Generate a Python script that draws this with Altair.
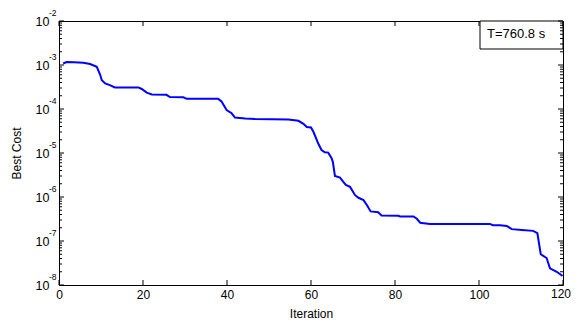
import altair as alt
import pandas as pd

# ---- data ----
iterations = [1.0, 1.8, 3.5, 5.8, 7.4, 9.0, 9.8, 10.2, 11.0, 12.1, 13.3, 18.9, 19.7, 20.9,
              22.1, 25.6, 26.4, 29.6, 30.4, 37.9, 38.7, 39.9, 41.1, 41.9, 44.3, 46.7,
              54.6, 57.0, 58.2, 59.0, 60.0, 60.6, 61.7, 62.5, 63.3, 64.1, 64.9, 65.2,
              65.7, 66.9, 67.7, 68.3, 69.3, 70.5, 71.3, 72.5, 73.3, 74.2, 76.0, 76.8,
              80.8, 81.2, 84.4, 85.2, 86.0, 88.3, 102.6, 103.3, 105.0, 106.6, 107.8,
              110.2, 112.9, 113.9, 114.7, 115.3, 116.1, 116.9, 118.5, 119.9]
best_cost = [1.08e-3, 1.17e-3, 1.15e-3, 1.12e-3, 1.05e-3, 9.1e-4, 6.0e-4, 4.5e-4, 3.8e-4,
             3.5e-4, 3.1e-4, 3.1e-4, 2.85e-4, 2.35e-4, 2.13e-4, 2.1e-4, 1.87e-4, 1.85e-4,
             1.7e-4, 1.7e-4, 1.48e-4, 9.5e-5, 8.0e-5, 6.4e-5, 6.1e-5, 5.9e-5, 5.8e-5,
             5.4e-5, 4.6e-5, 3.9e-5, 3.8e-5, 3.0e-5, 1.66e-5, 1.17e-5, 1.04e-5, 1.02e-5,
             7.6e-6, 6.3e-6, 3.0e-6, 2.75e-6, 2.2e-6, 1.88e-6, 1.7e-6, 1.1e-6, 9.6e-7,
             8.5e-7, 6.6e-7, 4.7e-7, 4.5e-7, 3.8e-7, 3.75e-7, 3.6e-7, 3.6e-7, 3.2e-7,
             2.6e-7, 2.45e-7, 2.45e-7, 2.28e-7, 2.28e-7, 2.2e-7, 1.86e-7, 1.78e-7,
             1.7e-7, 1.5e-7, 5.0e-8, 4.6e-8, 4.1e-8, 2.4e-8, 2.0e-8, 1.6e-8]

x_ticks = [0, 20, 40, 60, 80, 100, 120]
x_last_label = ["120"]
y_major = [1e-2, 1e-3, 1e-4, 1e-5, 1e-6, 1e-7, 1e-8]
y_exponents = ["-2", "-3", "-4", "-5", "-6", "-7", "-8"]
y_minor = [m * 10.0 ** e for e in range(-8, -2) for m in range(2, 10)]
legend_text = ["T=760.8 s"]

W, H = 504, 264
FONT = "Arial, Liberation Sans, sans-serif"

line_df = pd.DataFrame({"Iteration": iterations, "Cost": best_cost})
xt_df = pd.DataFrame({"Iteration": x_ticks})
xlast_df = pd.DataFrame({"Iteration": [x_ticks[-1]], "lab": x_last_label})
ymaj_df = pd.DataFrame({"Cost": y_major, "exp": y_exponents})
ymin_df = pd.DataFrame({"Cost": y_minor})
leg_df = pd.DataFrame({"t": legend_text})

xscale = alt.Scale(domain=[0, 120], nice=False, zero=False)
yscale = alt.Scale(type="log", domain=[1e-8, 1e-2], nice=False)

line = alt.Chart(line_df).mark_line(color="#0000FF", strokeWidth=2, clip=True).encode(
    x=alt.X("Iteration:Q", scale=xscale,
            axis=alt.Axis(values=x_ticks, ticks=False, tickSize=0, domain=False, grid=False,
                          labelExpr="datum.value == 120 ? '' : datum.label",
                          labelFontSize=12, labelPadding=4, labelColor="black",
                          labelFont=FONT, title="Iteration", titleFont=FONT,
                          titleFontSize=12, titleFontWeight="normal", titleColor="black",
                          titleY=23, labelFlush=False)),
    y=alt.Y("Cost:Q", scale=yscale,
            axis=alt.Axis(values=y_major, labelExpr="'10'", ticks=False, tickSize=0,
                          domain=False, grid=False, labelFontSize=12.5, labelPadding=10,
                          labelColor="black", labelFont=FONT, title="Best Cost",
                          titleFont=FONT, titleFontSize=12, titleFontWeight="normal",
                          titleColor="black", titleX=-36, labelFlush=False)),
)

last_lab = alt.Chart(xlast_df).mark_text(align="right", baseline="top", dx=8, fontSize=12,
                                         font=FONT, color="black").encode(
    x=alt.X("Iteration:Q", scale=xscale), y=alt.value(H + 4), text="lab:N")

exps = alt.Chart(ymaj_df).mark_text(align="left", baseline="middle", dy=-8, fontSize=8.5,
                                    font=FONT, color="black").encode(
    x=alt.value(-10), y=alt.Y("Cost:Q", scale=yscale), text="exp:N")

box = alt.Chart(leg_df).mark_rect(fill="white", stroke="black", strokeWidth=1).encode(
    x=alt.value(421), x2=alt.value(W), y=alt.value(0), y2=alt.value(28))
box_text = alt.Chart(leg_df).mark_text(align="left", baseline="middle", fontSize=13,
                                       font=FONT, color="black").encode(
    x=alt.value(428), y=alt.value(13), text="t:N")

def yticks(df, x0, x1):
    return alt.Chart(df).mark_rule(color="black", strokeWidth=1).encode(
        y=alt.Y("Cost:Q", scale=yscale), x=alt.value(x0), x2=alt.value(x1))

def xticks(y0, y1):
    return alt.Chart(xt_df).mark_rule(color="black", strokeWidth=1).encode(
        x=alt.X("Iteration:Q", scale=xscale), y=alt.value(y0), y2=alt.value(y1))

chart = alt.layer(
    line, box, box_text, exps, last_lab,
    yticks(ymaj_df, 0, 5), yticks(ymin_df, 0, 3),
    yticks(ymaj_df, W, W - 5), yticks(ymin_df, W, W - 3),
    xticks(H, H - 5), xticks(0, 5),
).properties(
    width=W, height=H,
    autosize=alt.AutoSizeParams(type="none"),
    padding={"left": 51, "top": 13, "right": 8, "bottom": 38},
    background="white",
).configure_view(stroke="black", strokeWidth=1)

chart.save("out.html", embed_options={"renderer": "svg", "actions": False})
